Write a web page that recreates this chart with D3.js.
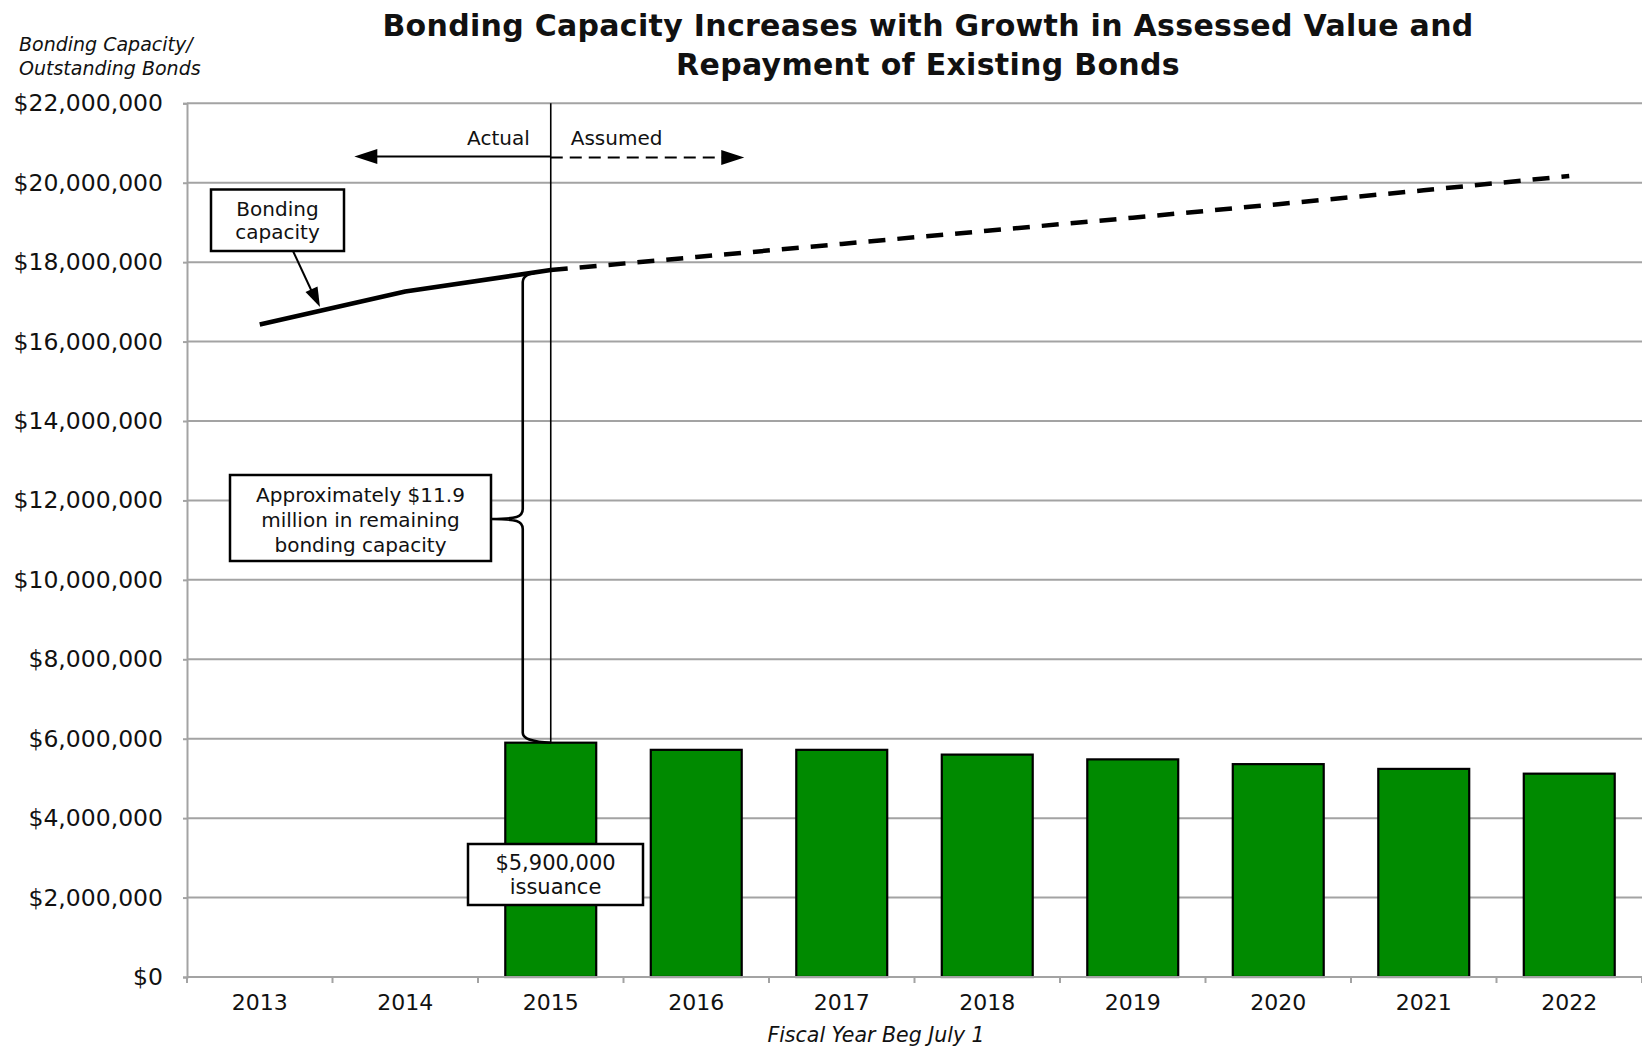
<!DOCTYPE html>
<html>
<head>
<meta charset="utf-8">
<script src="https://cdn.jsdelivr.net/npm/d3@7"></script>
<style>
  html, body { margin: 0; padding: 0; background: #fff; }
  svg { display: block; }
  text { font-family: "DejaVu Sans", "Noto Sans", sans-serif; fill: #111; }
</style>
</head>
<body>
<svg id="chart" width="1642" height="1046"></svg>
<script>
// Fiscal years (beginning July 1)
const years = ["2013", "2014", "2015", "2016", "2017", "2018", "2019", "2020", "2021", "2022"];

// Outstanding bonds after the 2015 issuance (dollars); none before 2015
const outstandingBonds = [null, null, 5900000, 5720000, 5720000, 5600000, 5480000, 5360000, 5240000, 5120000];

// Bonding capacity (dollars): actual through 2015, assumed afterwards
const bondingCapacity = [16430000, 17260000, 17800000, 18130000, 18460000, 18790000, 19120000, 19460000, 19810000, 20170000];

// Index of the last actual year
const lastActual = 2;

// Y axis ticks
const yTicks = [0, 2000000, 4000000, 6000000, 8000000, 10000000, 12000000, 14000000, 16000000, 18000000, 20000000, 22000000];

const titleLines = ["Bonding Capacity Increases with Growth in Assessed Value and", "Repayment of Existing Bonds"];
const yTitleLines = ["Bonding Capacity/", "Outstanding Bonds"];
const xTitle = "Fiscal Year Beg July 1";

const svg = d3.select("#chart");
const plot = { left: 187, right: 1642, top: 103.3, bottom: 977 };

const x = d3.scaleBand().domain(years).range([plot.left, plot.right])
  .paddingInner(0.375).paddingOuter(0.1875);
const y = d3.scaleLinear().domain([0, 22000000]).range([plot.bottom, plot.top]);
const step = x.step();
const cx = yr => x(yr) + x.bandwidth() / 2;
// fractional position along the category axis (0 = left edge, 10 = right edge)
const xi = i => plot.left + i * step;

const grey = "#a3a3a3";

// Gridlines
svg.append("g").selectAll("line").data(yTicks).join("line")
  .attr("x1", plot.left).attr("x2", plot.right)
  .attr("y1", d => y(d)).attr("y2", d => y(d))
  .attr("stroke", grey).attr("stroke-width", 2);

// Y axis
const yAxis = svg.append("g").attr("transform", `translate(${plot.left},0)`)
  .call(d3.axisLeft(y).tickValues(yTicks).tickFormat(d3.format("$,")).tickSize(4).tickPadding(20));
yAxis.select(".domain").attr("stroke", grey).attr("stroke-width", 2);
yAxis.selectAll(".tick line").attr("stroke", grey).attr("stroke-width", 2);
yAxis.selectAll(".tick text").attr("font-size", 23.5).attr("font-family", "DejaVu Sans").attr("fill", "#111");

// Bars
svg.append("g").selectAll("rect")
  .data(years.map((yr, i) => ({ yr, v: outstandingBonds[i] })).filter(d => d.v != null))
  .join("rect")
  .attr("x", d => x(d.yr)).attr("width", x.bandwidth())
  .attr("y", d => y(d.v)).attr("height", d => y(0) - y(d.v))
  .attr("fill", "#008a00").attr("stroke", "#000").attr("stroke-width", 2.2);

// X axis line and category boundary ticks
svg.append("line").attr("x1", plot.left).attr("x2", plot.right)
  .attr("y1", plot.bottom).attr("y2", plot.bottom).attr("stroke", grey).attr("stroke-width", 2);
svg.append("g").selectAll("line").data(d3.range(years.length + 1)).join("line")
  .attr("x1", i => xi(i)).attr("x2", i => xi(i))
  .attr("y1", plot.bottom).attr("y2", plot.bottom + 6)
  .attr("stroke", grey).attr("stroke-width", 2);
svg.append("g").selectAll("text").data(years).join("text")
  .attr("x", d => cx(d)).attr("y", 1010)
  .attr("text-anchor", "middle").attr("font-size", 22).text(d => d);

// Bonding capacity line: solid for actual, dashed for assumed
const pts = years.map((yr, i) => [cx(yr), y(bondingCapacity[i])]);
const line = d3.line();
svg.append("path").attr("d", line(pts.slice(0, lastActual + 1)))
  .attr("fill", "none").attr("stroke", "#000").attr("stroke-width", 4.5).attr("stroke-linejoin", "round");
svg.append("path").attr("d", line(pts.slice(lastActual)))
  .attr("fill", "none").attr("stroke", "#000").attr("stroke-width", 4.5)
  .attr("stroke-dasharray", "17,12");

// Divider between actual and assumed
const xDiv = cx(years[lastActual]);
svg.append("line").attr("x1", xDiv).attr("x2", xDiv)
  .attr("y1", plot.top).attr("y2", y(outstandingBonds[lastActual]))
  .attr("stroke", "#000").attr("stroke-width", 1.6);

// Actual / Assumed arrows
const arrowY = 156.5;
svg.append("line").attr("x1", xDiv).attr("x2", xi(1.15) + 18).attr("y1", arrowY).attr("y2", arrowY)
  .attr("stroke", "#000").attr("stroke-width", 2);
svg.append("path").attr("d", `M${xi(1.15)},${arrowY} l23,-7.5 v15 z`).attr("fill", "#000");
svg.append("line").attr("x1", xDiv).attr("x2", xi(3.83) - 18).attr("y1", arrowY + 1).attr("y2", arrowY + 1)
  .attr("stroke", "#000").attr("stroke-width", 2).attr("stroke-dasharray", "12,7");
svg.append("path").attr("d", `M${xi(3.83)},${arrowY + 1} l-23,-7.5 v15 z`).attr("fill", "#000");
svg.append("text").attr("x", xDiv - 21).attr("y", 145).attr("text-anchor", "end")
  .attr("font-size", 20).text("Actual");
svg.append("text").attr("x", xDiv + 20).attr("y", 145).attr("text-anchor", "start")
  .attr("font-size", 20).text("Assumed");

// Annotation box helper
function box(x0, y0, w, h, lines, lineGap, firstBase, size) {
  const g = svg.append("g");
  g.append("rect").attr("x", x0).attr("y", y0).attr("width", w).attr("height", h)
    .attr("fill", "#fff").attr("stroke", "#000").attr("stroke-width", 2.5);
  g.selectAll("text").data(lines).join("text")
    .attr("x", x0 + w / 2).attr("y", (d, i) => y0 + firstBase + i * lineGap)
    .attr("text-anchor", "middle").attr("font-size", size).text(d => d);
  return g;
}

// "Bonding capacity" callout with arrow to the line
box(211, 189.5, 133, 61.5, ["Bonding", "capacity"], 23, 26, 20);
svg.append("line").attr("x1", 293).attr("y1", 251).attr("x2", 313).attr("y2", 294)
  .attr("stroke", "#000").attr("stroke-width", 2);
svg.append("path").attr("d", "M320,307 L305.5,292 L317.5,286.5 Z").attr("fill", "#000");

// Brace marking remaining capacity in 2015
const yCap = y(bondingCapacity[lastActual]);
const yBond = y(outstandingBonds[lastActual]);
const braceX = xDiv - 28;
const tipY = 519;
const tipX = 491;
const brace = `M${xDiv},${yCap} C${braceX + 8},${yCap + 3} ${braceX},${yCap + 4} ${braceX},${yCap + 12}
  L${braceX},${tipY - 10} C${braceX},${tipY - 2} ${braceX - 6},${tipY} ${tipX},${tipY}
  C${braceX - 6},${tipY} ${braceX},${tipY + 2} ${braceX},${tipY + 10}
  L${braceX},${yBond - 10} C${braceX},${yBond - 4} ${braceX + 8},${yBond - 1} ${xDiv},${yBond}`;
svg.append("path").attr("d", brace).attr("fill", "none").attr("stroke", "#000").attr("stroke-width", 2.6);
box(230, 475, 261, 86, ["Approximately $11.9", "million in remaining", "bonding capacity"], 25, 26.5, 20);

// Issuance callout
box(468, 844, 175, 61, ["$5,900,000", "issuance"], 24, 26, 21);

// Titles
svg.append("g").selectAll("text").data(titleLines).join("text")
  .attr("x", 928).attr("y", (d, i) => 36 + i * 39)
  .attr("text-anchor", "middle").attr("font-size", 30).attr("font-weight", "bold")
  .attr("letter-spacing", 0.3)
  .attr("font-family", "'DejaVu Sans', sans-serif").text(d => d);

svg.append("g").selectAll("text").data(yTitleLines).join("text")
  .attr("x", 19).attr("y", (d, i) => 51 + i * 24)
  .attr("font-size", 19).attr("font-style", "italic").text(d => d);

svg.append("text").attr("x", 876).attr("y", 1042).attr("text-anchor", "middle")
  .attr("font-size", 20.5).attr("font-style", "italic").text(xTitle);
</script>
</body>
</html>
